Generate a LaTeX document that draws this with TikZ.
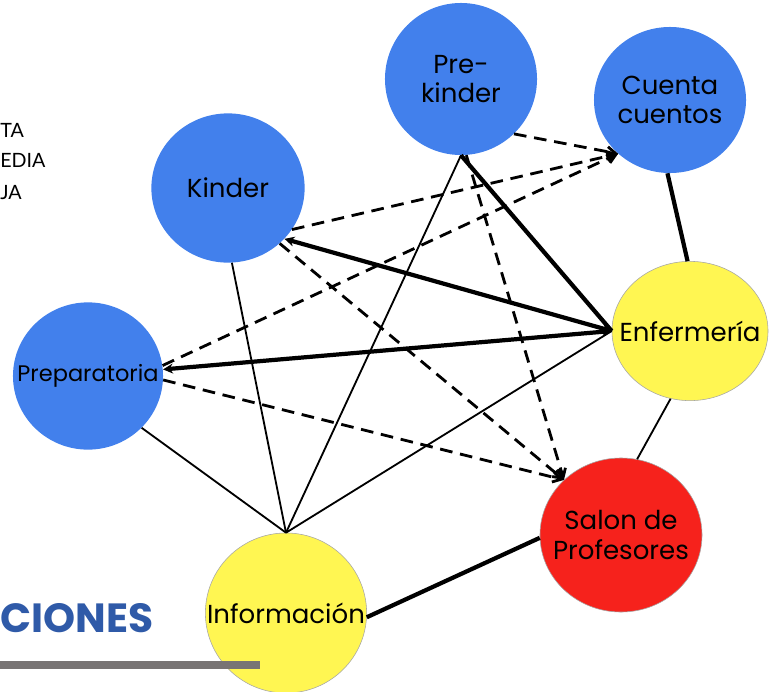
\documentclass[tikz,border=0pt]{standalone}
\usepackage{fontspec}
\setmainfont{Poppins}
\newfontfamily\legendfont{Lato}
\usetikzlibrary{shapes.geometric,arrows.meta}
\definecolor{nodeblue}{RGB}{66,128,236}
\definecolor{nodeyellow}{RGB}{255,246,82}
\definecolor{nodered}{RGB}{246,34,28}
\definecolor{titleblue}{RGB}{47,90,168}
\definecolor{bargray}{RGB}{120,116,116}

\begin{document}
\begin{tikzpicture}[x=0.025cm, y=-0.025cm,
  blob/.style={ellipse, inner sep=-1.6cm, align=center, font=\fontsize{18.5}{21}\selectfont},
  bluenode/.style={blob, fill=nodeblue},
  yellownode/.style={blob, fill=nodeyellow, draw=black!35, line width=0.4pt},
  rednode/.style={blob, fill=nodered, draw=black!35, line width=0.4pt},
  weak/.style={line width=1.3pt},
  strong/.style={line width=3pt, >={Stealth[length=7pt,width=7pt]}},
  dashline/.style={-{Straight Barb[length=6pt,width=7pt]}, line width=2pt, dash pattern=on 9pt off 5.5pt},
  lgd/.style={anchor=base west, inner sep=0pt, font=\legendfont\fontsize{14}{16}\selectfont}
]
  \useasboundingbox (0,0) rectangle (783,691);

  \node[bluenode, minimum width=3.8cm, minimum height=3.8cm] (prek) at (461,79) {Pre-\\kinder};
  \node[bluenode, minimum width=3.8cm, minimum height=3.65cm] (cuenta) at (670,100) {Cuenta\\cuentos};
  \node[bluenode, minimum width=3.83cm, minimum height=3.73cm] (kinder) at (228,188) {Kinder};
  \node[bluenode, minimum width=3.75cm, minimum height=3.68cm, font=\fontsize{16}{18}\selectfont] (prep) at (88,376) {Preparatoria};
  \node[yellownode, minimum width=3.9cm, minimum height=3.48cm] (enf) at (690,331) {Enfermería};
  \node[rednode, minimum width=4.05cm, minimum height=3.85cm] (salon) at (621,535) {Salon de\\Profesores};
  \node[yellownode, minimum width=4.03cm, minimum height=4cm] (info) at (286,613) {Información};

  \node[lgd] (alta) at (0,137) {TA};
  \node[lgd] (media) at (0,167) {EDIA};
  \node[lgd] (baja) at (0,199) {JA};

  \draw[weak] (info.north) -- (prep.-44);
  \draw[weak] (info.north) -- (kinder.-87);
  \draw[weak] (info.north) -- (prek.south);
  \draw[weak] (info.north) -- (enf.west);
  \draw[weak] (enf.254) -- (salon.78);

  \draw[strong] (info.-3) -- (salon.182);
  \draw[strong] (cuenta.268) -- (enf.92);
  \draw[strong] (prek.south) -- (enf.west);
  \draw[strong, <->] (kinder.-42) -- (enf.west);
  \draw[strong, <->] (prep.5) -- (enf.west);

  \draw[dashline] (prek.-46) -- (cuenta.226);
  \draw[dashline] (kinder.-33) -- (cuenta.226);
  \draw[dashline] (prep.8) -- (cuenta.226);
  \draw[dashline] (kinder.-47) -- (salon.136);
  \draw[dashline] (prep.-3) -- (salon.136);
  \draw[dashline] (prek.-86) -- (salon.136);

  \node[anchor=base west, text=titleblue, font=\bfseries\fontsize{29}{32}\selectfont, inner sep=0pt] (title) at (0,632) {CIONES};
  \fill[bargray] (0,661) rectangle (260,669);
\end{tikzpicture}
\end{document}
